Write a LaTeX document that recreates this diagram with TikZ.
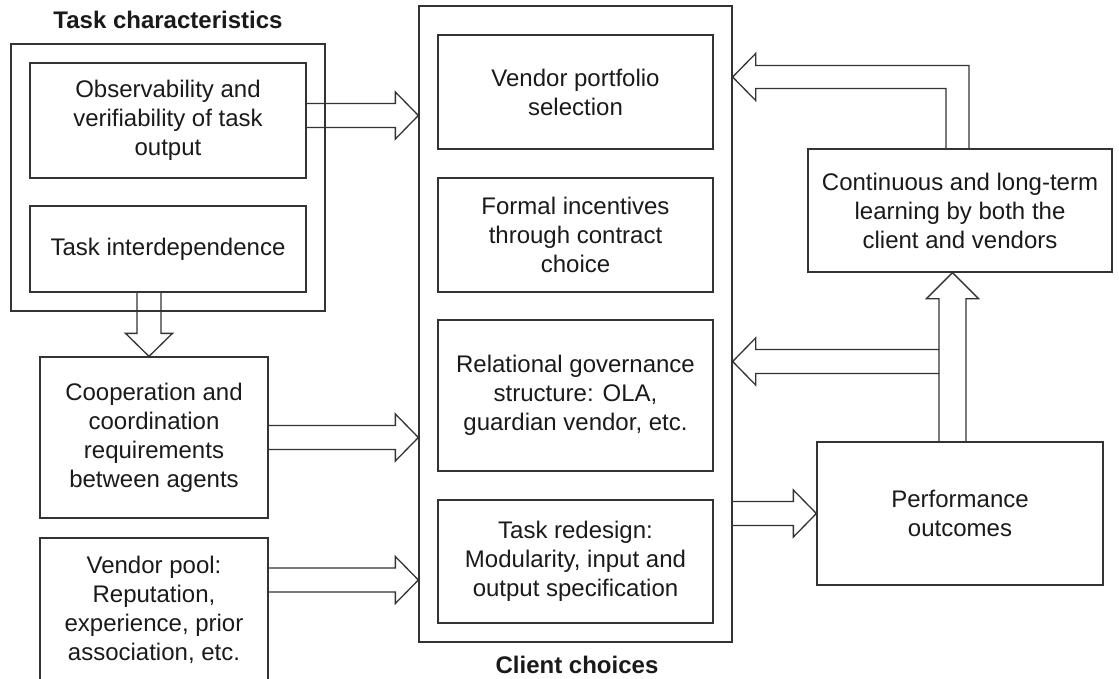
\documentclass[tikz,border=0pt]{standalone}
\usepackage{fontspec}
\setmainfont{Liberation Sans}
\usetikzlibrary{calc}

% block-arrow geometry: shaft half-width, head half-width, head length
\def\sw{12pt}
\def\hw{23.5pt}
\def\hl{23pt}

% right-pointing block arrow from #1 to the tip #2
\newcommand{\arrR}[2]{\draw[blk] let \p1=#1, \p2=#2 in
  (\x1,\y1+\sw) -- (\x2-\hl,\y1+\sw) -- (\x2-\hl,\y1+\hw) -- (\x2,\y1)
  -- (\x2-\hl,\y1-\hw) -- (\x2-\hl,\y1-\sw) -- (\x1,\y1-\sw);}
% left-pointing block arrow
\newcommand{\arrL}[2]{\draw[blk] let \p1=#1, \p2=#2 in
  (\x1,\y1+\sw) -- (\x2+\hl,\y1+\sw) -- (\x2+\hl,\y1+\hw) -- (\x2,\y1)
  -- (\x2+\hl,\y1-\hw) -- (\x2+\hl,\y1-\sw) -- (\x1,\y1-\sw);}
% downward block arrow
\newcommand{\arrD}[2]{\draw[blk] let \p1=#1, \p2=#2 in
  (\x1-\sw,\y1) -- (\x1-\sw,\y2+\hl) -- (\x1-\hw,\y2+\hl) -- (\x1,\y2)
  -- (\x1+\hw,\y2+\hl) -- (\x1+\sw,\y2+\hl) -- (\x1+\sw,\y1);}
% upward block arrow
\newcommand{\arrU}[2]{\draw[blk] let \p1=#1, \p2=#2 in
  (\x1-\sw,\y1) -- (\x1-\sw,\y2-\hl) -- (\x1-\hw,\y2-\hl) -- (\x1,\y2)
  -- (\x1+\hw,\y2-\hl) -- (\x1+\sw,\y2-\hl) -- (\x1+\sw,\y1);}
% block arrow going up from #1, then left to the tip #2
\newcommand{\arrUL}[2]{\draw[blk] let \p1=#1, \p2=#2 in
  (\x1+\sw,\y1) -- (\x1+\sw,\y2+\sw) -- (\x2+\hl,\y2+\sw) -- (\x2+\hl,\y2+\hw)
  -- (\x2,\y2) -- (\x2+\hl,\y2-\hw) -- (\x2+\hl,\y2-\sw) -- (\x1-\sw,\y2-\sw)
  -- (\x1-\sw,\y1);}

\definecolor{ink}{HTML}{1A1A1A}
\definecolor{edge}{HTML}{333333}

\tikzset{
  box/.style={draw=edge, line width=1.3pt, rectangle, align=center,
    text=ink, inner sep=2pt,
    font=\fontsize{24}{29}\selectfont},
  frame/.style={draw=edge, line width=1.3pt, rectangle},
  heading/.style={text=ink, font=\fontsize{24}{29}\selectfont\bfseries,
    inner sep=0pt, anchor=base},
  blk/.style={draw=edge, line width=1.3pt, line join=miter},
}

\begin{document}
\begin{tikzpicture}[x=1pt, y=-1pt]
\useasboundingbox (0,0) rectangle (1119,679);
\clip (0,0) rectangle (1119,679);

% left column: task characteristics
\node[heading] (tch) at (168,29) {Task characteristics};
\node[frame, minimum width=314pt, minimum height=267pt] (tc) at (168,177.5) {};
\node[box, minimum width=276pt, minimum height=115pt] (obs) at (168,120.5)
  {Observability and\\verifiability of task\\output};
\node[box, minimum width=276pt, minimum height=86pt] (inter) at (168,249)
  {Task interdependence};
\node[box, minimum width=228pt, minimum height=161pt] (coop) at (154,437.5)
  {Cooperation and\\coordination\\requirements\\between agents};
\node[box, minimum width=228pt, minimum height=144pt] (pool) at (154,610)
  {Vendor pool:\\Reputation,\\experience, prior\\association, etc.};

% middle column: client choices
\node[frame, minimum width=313pt, minimum height=636pt] (client) at (575.5,324) {};
\node[heading] (cch) at (577,673) {Client choices};
\node[box, minimum width=275pt, minimum height=114pt] (vps) at (575.5,92)
  {Vendor portfolio\\selection};
\node[box, minimum width=275pt, minimum height=114pt] (formal) at (575.5,235)
  {Formal incentives\\through contract\\choice};
\node[box, minimum width=275pt, minimum height=151pt] (rel) at (575.5,395.5)
  {Relational governance\\structure: OLA,\\guardian vendor, etc.};
\node[box, minimum width=275pt, minimum height=123pt] (redes) at (575.5,561.5)
  {Task redesign:\\Modularity, input and\\output specification};

% right column: learning and outcomes
\node[box, minimum width=304pt, minimum height=123pt] (learn) at (960,210.5)
  {Continuous and long-term\\learning by both the\\client and vendors};
\node[box, minimum width=286pt, minimum height=143pt] (perf) at (960,513.5)
  {Performance\\outcomes};

% anchor points for the block arrows
\coordinate (a1) at ($(obs.east)+(0,-5)$);
\coordinate (a2) at (coop.east);
\coordinate (a3) at ($(pool.east)+(0,-30)$);
\coordinate (a4) at (perf.west -| client.east);
\coordinate (d1) at ($(inter.south)+(-19,0)$);
\coordinate (u1) at ($(perf.north)+(-7.5,0)$);
\coordinate (l1) at ($(rel.east)+(0,-34)$);
\coordinate (l0) at ($(u1)+(-13.5,0)$);
\coordinate (f1) at ($(learn.north)+(-2.5,0)$);
\coordinate (f2) at ($(vps.east)+(0,-15)$);

% inputs into the client choices
\arrR{(a1)}{(a1 -| client.west)}
\arrR{(a2)}{(a2 -| client.west)}
\arrR{(a3)}{(a3 -| client.west)}
\arrD{(d1)}{(d1 |- coop.north)}

% client choices drive performance
\arrR{(a4)}{(perf.west)}

% feedback loop
{\def\sw{13.5pt}\def\hw{26pt}\def\hl{26pt}
 \arrU{(u1)}{(u1 |- learn.south)}}
\arrL{(l1 -| l0)}{(l1 -| client.east)}
{\def\sw{11.5pt}
 \arrUL{(f1)}{(f2 -| client.east)}}
\end{tikzpicture}
\end{document}
